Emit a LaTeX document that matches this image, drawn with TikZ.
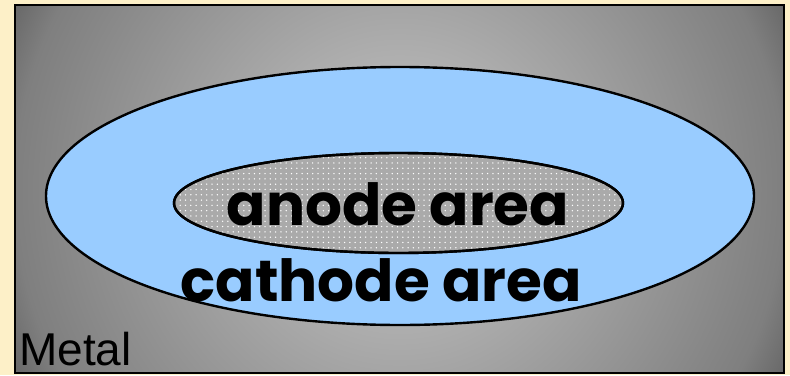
\documentclass[tikz,border=0pt]{standalone}
\usepackage{fontspec}
\setmainfont{Liberation Sans}
\newfontfamily\comicfont{Poppins}
\usetikzlibrary{shapes.geometric,patterns.meta}
\definecolor{bgbeige}{RGB}{253,240,200}
\definecolor{lightblue}{RGB}{153,204,255}
\definecolor{dotgray}{RGB}{170,170,170}
\definecolor{mzero}{RGB}{200,200,200}
\definecolor{mone}{RGB}{165,165,165}
\definecolor{mtwo}{RGB}{127,127,127}
\definecolor{mthree}{RGB}{102,102,102}
\pgfdeclareradialshading{metalshade}{\pgfpoint{0bp}{0bp}}{color(0bp)=(mzero); color(10.7bp)=(mone); color(22.4bp)=(mtwo); color(25bp)=(mthree); color(50bp)=(mthree)}
\tikzset{
  zone/.style={ellipse, draw=black, line width=2.4pt, inner sep=0pt},
  bigtext/.style={font=\comicfont\bfseries\fontsize{58}{64}\selectfont, anchor=base, inner sep=0pt},
}
\begin{document}
\begin{tikzpicture}[x=1pt,y=-1pt]
\useasboundingbox (0,0) rectangle (790,375);
\fill[bgbeige] (0,0) rectangle (790,375);
\begin{scope}
  \clip (15,5) rectangle (784,373);
  \shade[shading=metalshade] (399.5,189) circle (430);
\end{scope}
\draw[line width=2.2pt] (15,5) rectangle (784,373);
\node[zone, fill=lightblue, minimum width=708pt, minimum height=258pt] (cathode) at (400,196) {};
\node[zone, fill=dotgray, minimum width=449pt, minimum height=100pt] (anode) at (398.5,203) {};
\path[pattern={Dots[distance=5.3pt, radius=0.75pt]}, pattern color=white] (398.5,203) ellipse (223 and 48.8);
\draw[line width=2.4pt] (398.5,203) ellipse (224.5 and 50);
\node[bigtext] (anodetext) at (398,225) {anode area};
\node[bigtext] (cathodetext) at (381,301) {cathode area};
\node[font=\fontsize{46}{50}\selectfont, anchor=base west, inner sep=0pt] (metal) at (19,365) {Metal};
\end{tikzpicture}
\end{document}
